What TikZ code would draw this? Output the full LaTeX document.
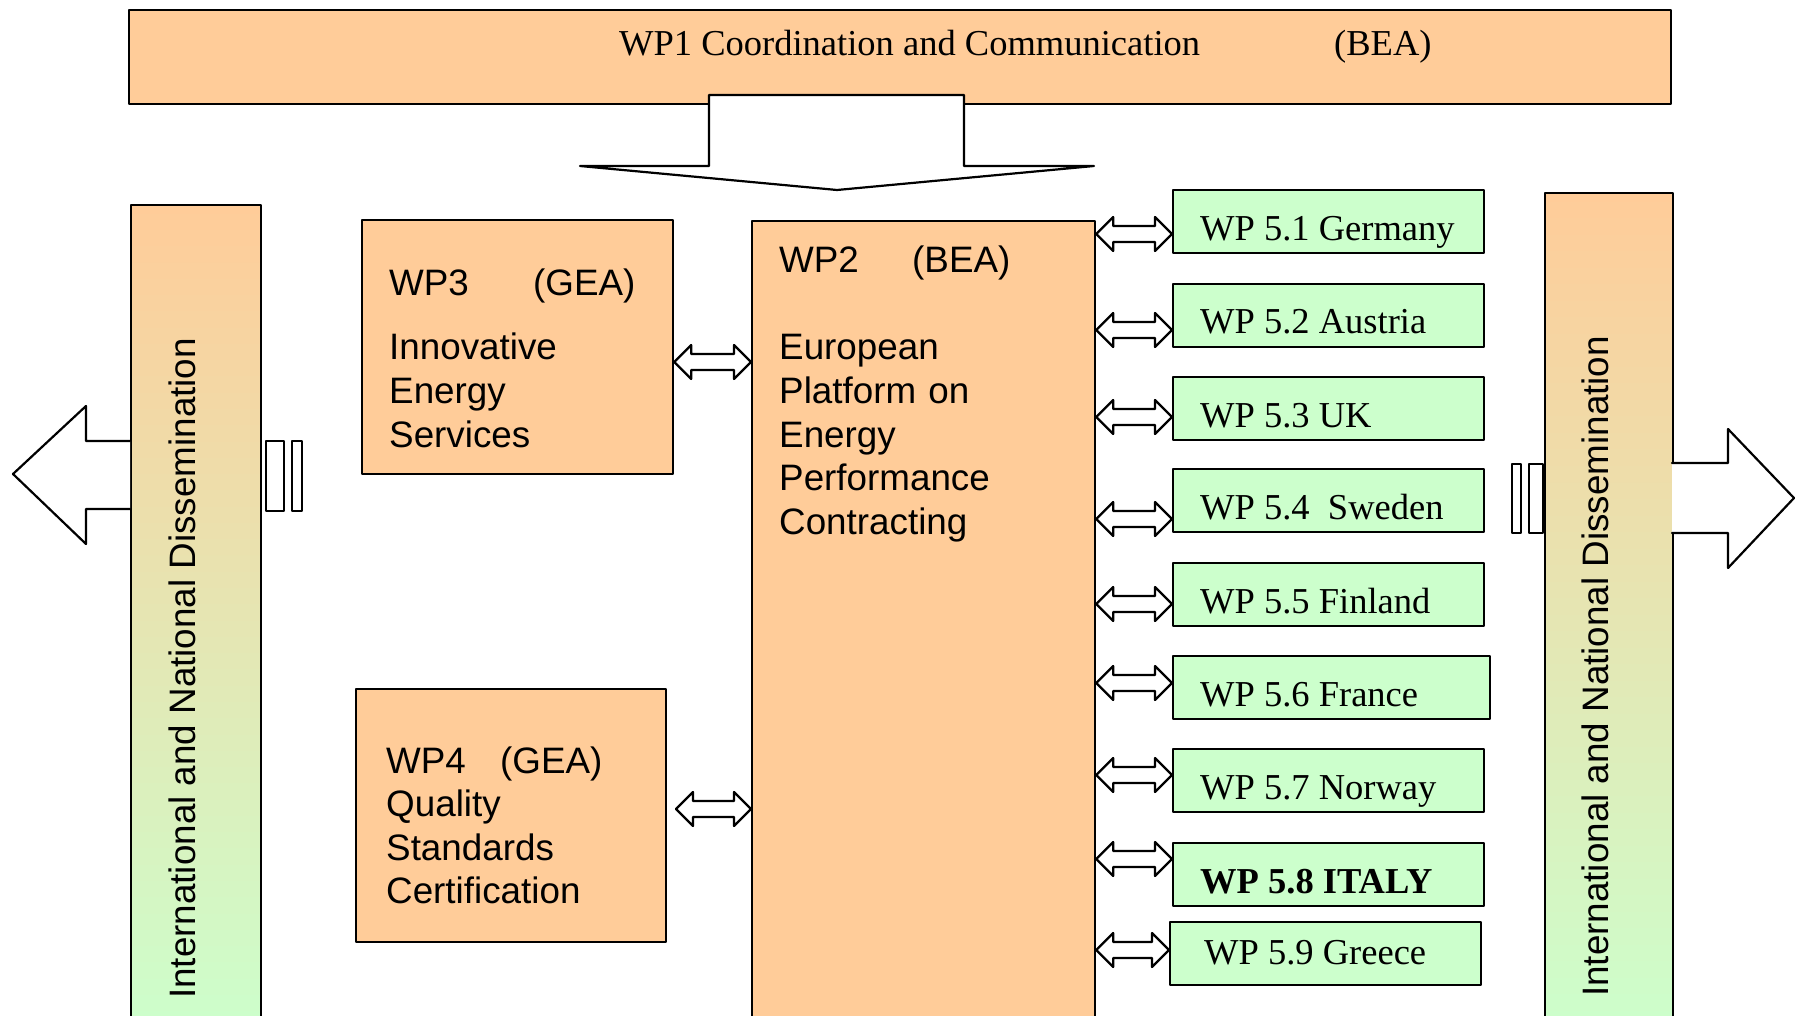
\documentclass[tikz,border=0pt]{standalone}
\usepackage{fontspec}
\setmainfont{Liberation Serif}
\setsansfont{Liberation Sans}
\usetikzlibrary{calc}
\definecolor{wporange}{RGB}{255,204,153}
\definecolor{wpgreen}{RGB}{204,255,204}
\tikzset{
  wpbox/.style={draw, line width=2.2pt, fill=wporange, inner sep=0pt, anchor=north west},
  ctybox/.style={draw, line width=2.2pt, fill=wpgreen, inner sep=0pt, anchor=north west, minimum height=63},
  dissbox/.style={draw, line width=2.2pt, top color=wporange, bottom color=wpgreen, inner sep=0pt, anchor=north west},
  blockarrow/.style={draw, line width=2.2pt, fill=white},
  sanstext/.style={font=\sffamily\fontsize{36.8}{43.5}\selectfont, align=left, inner sep=0pt},
  seriftext/.style={font=\rmfamily\fontsize{36.5}{43.5}\selectfont, inner sep=0pt}
}
\newcommand{\dblarrow}[2]{%
  \draw[blockarrow] let \p1=(#1), \p2=(#2) in
    (\x1,\y1) -- (\x1+17pt,\y1+17pt) -- (\x1+17pt,\y1+8pt) -- (\x2-17pt,\y1+8pt)
    -- (\x2-17pt,\y1+17pt) -- (\x2,\y1) -- (\x2-17pt,\y1-17pt) -- (\x2-17pt,\y1-8pt)
    -- (\x1+17pt,\y1-8pt) -- (\x1+17pt,\y1-17pt) -- cycle;}
\begin{document}
\begin{tikzpicture}[line cap=round,line join=round,x=1pt,y=-1pt]

\clip (0,0) rectangle (1796,1016);

\node[wpbox, minimum width=1542, minimum height=94] (wp1) at (128,9) {};
\node[seriftext, anchor=base west] (wp1t) at (619,56) {\makebox[715pt][l]{WP1 Coordination and Communication}(BEA)};

\draw[blockarrow] (709,95) -- (964,95) -- (964,166) -- (1094,166) -- (837,190) -- (580,166) -- (709,166) -- cycle;

\node[dissbox, minimum width=130, minimum height=830] (dissl) at (130,204) {};
\node[dissbox, minimum width=128, minimum height=842] (dissr) at (1544,192) {};
\node[sanstext, rotate=90, anchor=base west] (dissltxt) at (195,999) {International and National Dissemination};
\node[sanstext, rotate=90, anchor=base west] (dissrtxt) at (1608,997) {International and National Dissemination};

\draw[blockarrow] (130,441) -- (86,441) -- (86,406) -- (13,474) -- (86,544) -- (86,509) -- (130,509);
\draw[blockarrow] (1672,463) -- (1728,463) -- (1728,429) -- (1794,498) -- (1728,568) -- (1728,533) -- (1672,533);
\draw[blockarrow] (266,441) rectangle (284,511);
\draw[blockarrow] (292,441) rectangle (302,511);
\draw[blockarrow] (1512,464) rectangle (1521,533);
\draw[blockarrow] (1529,464) rectangle (1543,533);

\node[wpbox, minimum width=343, minimum height=830] (wp2) at (751,220) {};
\node[sanstext, anchor=base west, text width=300] (wp2t) at (779,273) {\makebox[133pt][l]{WP2}(BEA)\\[43.5pt]European\\Platform on\\Energy\\Performance\\Contracting};

\node[wpbox, minimum width=311, minimum height=254] (wp3) at (361,219) {};
\node[sanstext, anchor=base west, text width=280] (wp3t) at (389,295) {\makebox[144pt][l]{WP3}(GEA)\\[21.5pt]Innovative\\Energy\\Services};

\node[wpbox, minimum width=310, minimum height=253] (wp4) at (355,688) {};
\node[sanstext, anchor=base west, text width=280] (wp4t) at (386,773) {\makebox[114pt][l]{WP4}(GEA)\\Quality\\Standards\\Certification};

\dblarrow{wp3.east |- 0,362}{wp2.west |- 0,362}
\dblarrow{676,809}{wp2.west |- 0,809}

\foreach \k/\xa/\ya/\bw/\tx/\ty/\lbl in {1/1172/189/311/1200/241/{WP 5.1 Germany},
    2/1172/283/311/1200/334/{WP 5.2 Austria},
    3/1172/376/311/1200/427/{WP 5.3 UK},
    4/1172/468/311/1200/519/{WP 5.4\ \ Sweden},
    5/1172/562/311/1200/613/{WP 5.5 Finland},
    6/1172/655/317/1200/706/{WP 5.6 France},
    7/1172/748/311/1200/799/{WP 5.7 Norway},
    8/1172/842/311/1200/893/{\bfseries WP 5.8 ITALY},
    9/1169/921/311/1204/964/{WP 5.9 Greece}}{
  \node[ctybox, minimum width=\bw] (wp5\k) at (\xa,\ya) {};
  \node[seriftext, anchor=base west] (wp5t\k) at (\tx,\ty) {\lbl};
}

\foreach \k/\ya in {1/234,2/330,3/417,4/519,5/604,6/683,7/775,8/859,9/950}{
  \dblarrow{wp2.east |- 0,\ya}{wp5\k.west |- 0,\ya}
}
\end{tikzpicture}
\end{document}
